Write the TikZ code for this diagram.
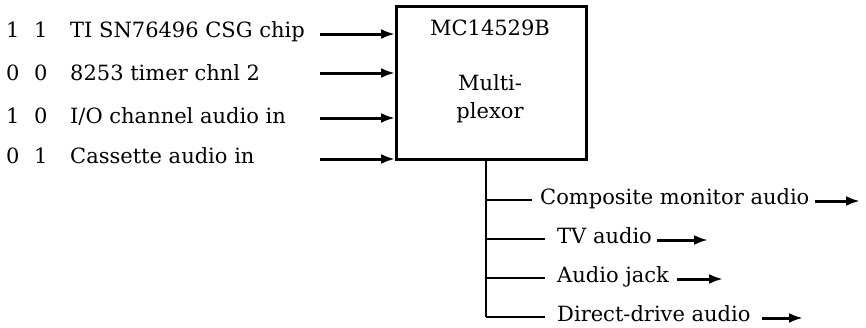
\documentclass[tikz,border=0pt]{standalone}
\usepackage{fontspec}
\setmainfont{DejaVu Serif}
\usetikzlibrary{arrows.meta}
\begin{document}
\begin{tikzpicture}[x=1pt, y=-1pt, font=\fontsize{21}{28}\selectfont,
    sig/.style={-{Latex[length=14pt,width=10pt]}, line width=3pt},
    wire/.style={line width=2.8pt},
    txt/.style={anchor=base west, inner sep=0pt}]
    \useasboundingbox (0,0) rectangle (866,327);
    % Multiplexor
    \node[draw, line width=2.8pt, minimum width=190pt, minimum height=153pt,
        anchor=north west] (mux) at (395,5) {};
    \node (chip) at (490,28) {MC14529B};
    \node[align=center] (muxlabel) at (490,99) {Multi-\\plexor};
    % Inputs with select codes
    \foreach \a/\b/\txt/\base/\ay [count=\i] in
        {1/1/{TI SN76496 CSG chip}/37/34,
         0/0/{8253 timer chnl 2}/80/73,
         1/0/{I/O channel audio in}/123/118,
         0/1/{Cassette audio in}/163/159}{
        \node[txt] (bit\i a) at (6,\base) {\a};
        \node[txt] (bit\i b) at (34,\base) {\b};
        \node[txt] (in\i) at (70,\base) {\txt};
        \coordinate (src\i) at (320,\ay);
        \draw[sig] (src\i) -- (src\i -| mux.west);
    }
    % Outputs
    \coordinate (tap) at (486,0 |- mux.south);
    \foreach \txt/\y/\e/\s/\ta/\tb [count=\i] in
        {Composite monitor audio/200/532/540/815/860,
         TV audio/239/545/557/657/708,
         Audio jack/278/545/557/677/723,
         Direct-drive audio/317/545/557/762/803}{
        \coordinate (br\i) at (486,\y);
        \coordinate (end\i) at (\e,\y);
        \node[txt] (out\i) at (\s,\y+4) {\txt};
        \coordinate (dst\i a) at (\ta,\y+1);
        \coordinate (dst\i b) at (\tb,\y+1);
        \draw[wire] (br\i) -- (end\i);
        \draw[sig] (dst\i a) -- (dst\i b);
    }
    \draw[wire] (tap) -- (br4);
\end{tikzpicture}
\end{document}
